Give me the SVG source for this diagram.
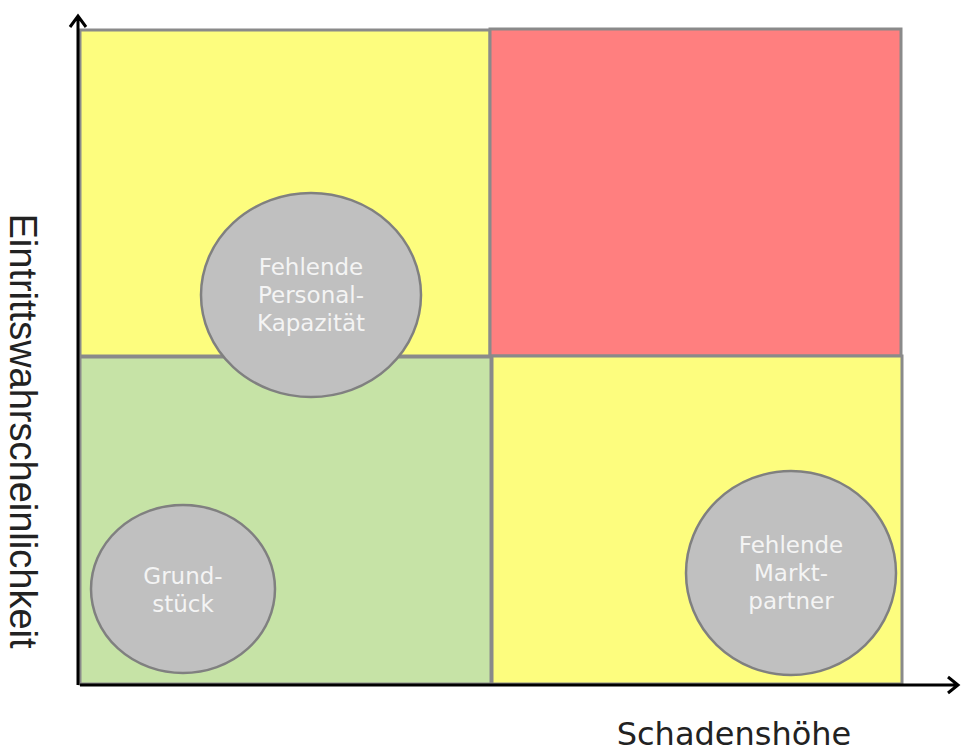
<svg xmlns="http://www.w3.org/2000/svg" width="963" height="753" viewBox="0 0 963 753">
<style>
.q{stroke:#8a8a8a;stroke-width:3}
.c{fill:#c0c0c0;stroke:#808080;stroke-width:2.5}
.t{font-family:"DejaVu Sans",Verdana,sans-serif;font-size:23px;fill:#f4f4f4;text-anchor:middle}
.ax{stroke:#000;stroke-width:3;fill:none}
.lab{font-family:"DejaVu Sans",Verdana,sans-serif;font-size:32px;fill:#222;text-anchor:middle}
.ylab{font-family:"Liberation Sans",Arial,sans-serif;font-size:38px;fill:#222;text-anchor:middle}
</style>
<g id="quadrants">
<rect id="q-tl" class="q" x="80" y="30" width="410" height="326" fill="#fdfd7e"/>
<rect id="q-tr" class="q" x="490" y="29" width="411" height="327" fill="#ff7f7f"/>
<rect id="q-bl" class="q" x="80" y="357" width="411" height="327" fill="#c6e3a6"/>
<rect id="q-br" class="q" x="492" y="356" width="410" height="328" fill="#fdfd7e"/>
</g>
<g id="connectors">
<path class="ax" d="M78 685 V16 M70 27 L78 16 L86 27"/>
<path class="ax" d="M80 685 H958 M948 677 L958 685 L948 693"/>
</g>
<g id="node-personal">
<ellipse class="c" cx="311" cy="295" rx="110" ry="102"/>
<text class="t" x="311" y="275">Fehlende</text>
<text class="t" x="311" y="303">Personal-</text>
<text class="t" x="311" y="331">Kapazität</text>
</g>
<g id="node-grundstueck">
<ellipse class="c" cx="183" cy="589" rx="92" ry="84"/>
<text class="t" x="183" y="584">Grund-</text>
<text class="t" x="183" y="612">stück</text>
</g>
<g id="node-markt">
<ellipse class="c" cx="791" cy="573" rx="105" ry="102"/>
<text class="t" x="791" y="553">Fehlende</text>
<text class="t" x="791" y="581">Markt-</text>
<text class="t" x="791" y="609">partner</text>
</g>
<text class="lab" x="734" y="745">Schadenshöhe</text>
<text class="ylab" transform="translate(10 431) rotate(90)" x="0" y="0">Eintrittswahrscheinlichkeit</text>
</svg>
